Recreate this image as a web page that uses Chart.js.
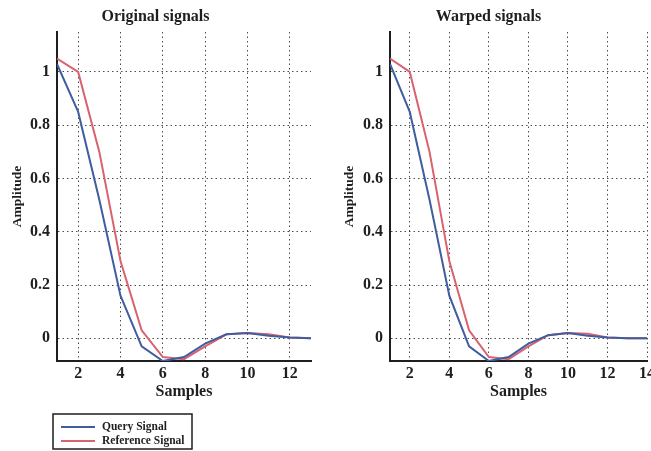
<!DOCTYPE html>
<html>
<head>
<meta charset="utf-8">
<script src="https://cdn.jsdelivr.net/npm/chart.js@4.4.1/dist/chart.umd.min.js"></script>
<style>
  html, body { margin: 0; padding: 0; background: #fff; }
  #wrap { position: relative; width: 651px; height: 451px; overflow: hidden; }
  canvas { position: absolute; top: 0; }
</style>
</head>
<body>
<div id="wrap">
  <canvas id="original" width="330" height="451" style="left:0"></canvas>
  <canvas id="warped" width="321" height="451" style="left:330px"></canvas>
</div>
<script>
// sample indices and amplitudes, before and after warping
const samplesOriginal = [1, 2, 3, 4, 5, 6, 7, 8, 9, 10, 11, 12, 13];
const queryOriginal = [1.03, 0.85, 0.52, 0.16, -0.03, -0.085, -0.07, -0.02, 0.015, 0.02, 0.01, 0.003, 0];
const referenceOriginal = [1.05, 1.0, 0.7, 0.29, 0.03, -0.07, -0.078, -0.03, 0.015, 0.02, 0.015, 0.003, 0];

const samplesWarped = [1, 2, 3, 4, 5, 6, 7, 8, 9, 10, 11, 12, 13, 14];
const queryWarped = [1.03, 0.85, 0.52, 0.16, -0.03, -0.085, -0.07, -0.02, 0.012, 0.02, 0.01, 0.003, 0, 0];
const referenceWarped = [1.05, 1.0, 0.7, 0.29, 0.03, -0.07, -0.078, -0.03, 0.012, 0.02, 0.017, 0.003, 0, 0];

const yTicks = [0, 0.2, 0.4, 0.6, 0.8, 1];
const xTicksOriginal = [2, 4, 6, 8, 10, 12];
const xTicksWarped = [2, 4, 6, 8, 10, 12, 14];

const BLUE = '#3f5d9f';
const RED = '#d8626e';
const INK = '#1e1e1e';
const SERIF = '"Liberation Serif", "DejaVu Serif", serif';

function toPoints(xs, ys) {
    return xs.map((x, i) => ({ x: x, y: ys[i] }));
}

// boxed legend under the plot, like the matlab one
const boxLegend = {
    id: 'boxLegend',
    afterDraw(chart, args, opts) {
        if (!opts.show) return;
        const ctx = chart.ctx;
        ctx.save();
        ctx.lineWidth = 1.5;
        ctx.strokeStyle = INK;
        ctx.strokeRect(opts.x, opts.y, opts.w, opts.h);
        ctx.font = 'bold 11.5px ' + SERIF;
        ctx.textBaseline = 'middle';
        chart.data.datasets.forEach((ds, i) => {
            const yy = opts.y + 13 + i * 14;
            ctx.strokeStyle = ds.borderColor;
            ctx.lineWidth = 2;
            ctx.beginPath();
            ctx.moveTo(opts.x + 8, yy);
            ctx.lineTo(opts.x + 42, yy);
            ctx.stroke();
            ctx.fillStyle = INK;
            ctx.fillText(ds.label, opts.x + 49, yy);
        });
        ctx.restore();
    }
};

function makeChart(id, title, xs, query, reference, xTicks, xMax, axisWidth, titlePad, rightPad, showLegend) {
    const ctx = document.getElementById(id);
    return new Chart(ctx, {
        type: 'line',
        data: {
            datasets: [
                {
                    label: 'Query Signal',
                    data: toPoints(xs, query),
                    borderColor: BLUE,
                    borderWidth: 2,
                    pointRadius: 0,
                    tension: 0
                },
                {
                    label: 'Reference Signal',
                    data: toPoints(xs, reference),
                    borderColor: RED,
                    borderWidth: 2,
                    pointRadius: 0,
                    tension: 0
                }
            ]
        },
        options: {
            responsive: false,
            animation: false,
            layout: { padding: { left: 0, right: rightPad, top: 0, bottom: 46 } },
            plugins: {
                legend: { display: false },
                tooltip: { enabled: false },
                title: {
                    display: true,
                    text: title,
                    color: INK,
                    font: { family: SERIF, size: 16, weight: 'bold' },
                    padding: { top: 7, bottom: 5.8 }
                },
                boxLegend: { show: showLegend, x: 53, y: 414, w: 139, h: 35 }
            },
            scales: {
                x: {
                    type: 'linear',
                    min: 1,
                    max: xMax,
                    afterBuildTicks: (scale) => {
                        scale.ticks = xTicks.map(v => ({ value: v }));
                    },
                    afterFit: (scale) => {
                        scale.height = 44;
                        scale.paddingLeft = 0;
                        scale.paddingRight = 0;
                    },
                    grid: { color: 'rgba(0,0,0,0.7)', lineWidth: 1, drawTicks: false },
                    border: { display: true, color: INK, width: 2, dash: [1.5, 3] },
                    ticks: {
                        color: INK,
                        padding: 3,
                        maxRotation: 0,
                        font: { family: SERIF, size: 16, weight: 'bold' },
                        callback: (v) => String(v)
                    },
                    title: {
                        display: true,
                        text: 'Samples',
                        color: INK,
                        font: { family: SERIF, size: 16, weight: 'bold' },
                        padding: { top: 0, bottom: 4 }
                    }
                },
                y: {
                    min: -0.085,
                    max: 1.15,
                    afterBuildTicks: (scale) => {
                        scale.ticks = yTicks.map(v => ({ value: v }));
                    },
                    afterFit: (scale) => {
                        scale.width = axisWidth;
                        scale.paddingTop = 0;
                        scale.paddingBottom = 0;
                    },
                    grid: { color: 'rgba(0,0,0,0.7)', lineWidth: 1, drawTicks: false },
                    border: { display: true, color: INK, width: 2, dash: [1.5, 3] },
                    ticks: {
                        color: INK,
                        padding: 7,
                        font: { family: SERIF, size: 16, weight: 'bold' },
                        callback: (v) => String(v)
                    },
                    title: {
                        display: true,
                        text: 'Amplitude',
                        color: INK,
                        font: { family: SERIF, size: 13.5, weight: 'bold' },
                        padding: { top: titlePad, bottom: 0 }
                    }
                }
            }
        },
        plugins: [boxLegend]
    });
}

makeChart('original', 'Original signals', samplesOriginal, queryOriginal, referenceOriginal,
    xTicksOriginal, 13, 57, 9, 19, true);
makeChart('warped', 'Warped signals', samplesWarped, queryWarped, referenceWarped,
    xTicksWarped, 14, 60, 11, 4, false);
</script>
</body>
</html>
